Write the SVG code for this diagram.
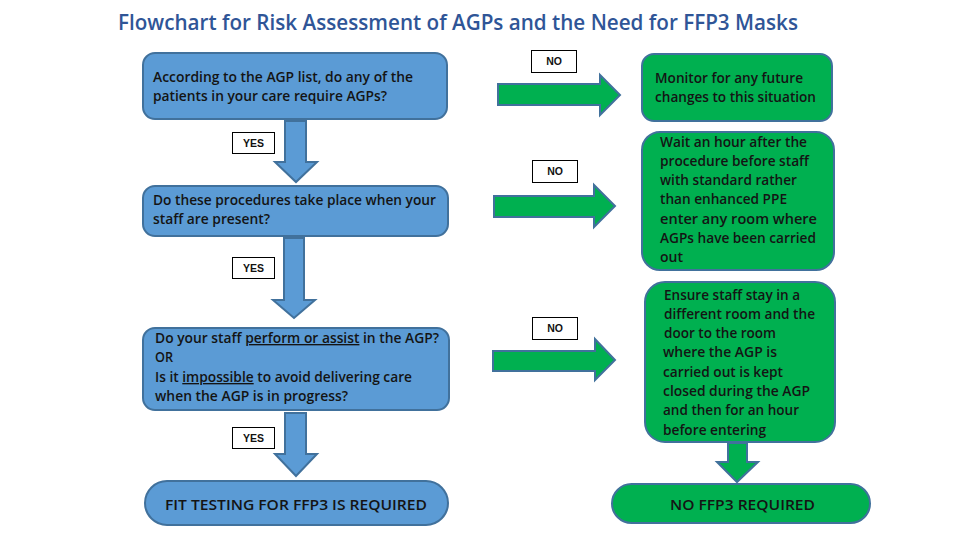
<svg xmlns="http://www.w3.org/2000/svg" width="960" height="540" viewBox="0 0 960 540">
<style>
.title{font-family:"Open Sans","Liberation Sans",sans-serif;font-weight:600;font-size:21px;fill:#2f5597}
.t{font-family:"Open Sans","Liberation Sans",sans-serif;font-weight:600;font-size:13.5px;fill:#141414}
.big{font-family:"Open Sans","Liberation Sans",sans-serif;font-weight:600;font-size:15px;fill:#141414}
.lbl{font-family:"Liberation Sans",Arial,sans-serif;font-weight:bold;font-size:10.5px;fill:#111;text-anchor:middle}
.blue{fill:#5b9bd5;stroke:#41719c;stroke-width:2}
.green{fill:#00b050;stroke:#41719c;stroke-width:2}
.lbox{fill:#fff;stroke:#000;stroke-width:1}
.u{text-decoration:underline}
</style>
<rect width="960" height="540" fill="#fff"/>
<text class="title" x="118" y="30" textLength="680" lengthAdjust="spacingAndGlyphs">Flowchart for Risk Assessment of AGPs and the Need for FFP3 Masks</text>

<g id="connectors">
  <polygon class="blue" points="285,121 306,121 306,162 317,162 296,182 275,162 285,162"/>
  <polygon class="blue" points="284,238 304,238 304,300 315,300 294,318 273,300 284,300"/>
  <polygon class="blue" points="285,413 306,413 306,454 317,454 296,476 275,454 285,454"/>
  <polygon class="green" points="498,84 600,84 600,75 620,95 600,115 600,105 498,105"/>
  <polygon class="green" points="494,196 594,196 594,185 615,206 594,227 594,217 494,217"/>
  <polygon class="green" points="493,351 595,351 595,339 615,360 595,380 595,371 493,371"/>
  <polygon class="green" points="728,443 747,443 747,462 758,462 737,482 717,462 728,462"/>
  <g id="yes1"><rect class="lbox" x="232.5" y="132.5" width="42" height="21"/><text class="lbl" x="253.5" y="146.5">YES</text></g>
  <g id="yes2"><rect class="lbox" x="232.5" y="257.5" width="42" height="21"/><text class="lbl" x="253.5" y="271.5">YES</text></g>
  <g id="yes3"><rect class="lbox" x="232.5" y="427.5" width="42" height="21"/><text class="lbl" x="253.5" y="441.5">YES</text></g>
  <g id="no1"><rect class="lbox" x="531.5" y="50.5" width="45" height="22"/><text class="lbl" x="554" y="65">NO</text></g>
  <g id="no2"><rect class="lbox" x="532.5" y="160.5" width="45" height="22"/><text class="lbl" x="555" y="175">NO</text></g>
  <g id="no3"><rect class="lbox" x="532.5" y="317.5" width="45" height="22"/><text class="lbl" x="555" y="332">NO</text></g>
</g>

<g id="q1">
  <rect class="blue" x="143" y="53" width="304" height="66" rx="12"/>
  <text class="t" x="153" y="82" textLength="260" lengthAdjust="spacingAndGlyphs">According to the AGP list, do any of the</text>
  <text class="t" x="153" y="101" textLength="234" lengthAdjust="spacingAndGlyphs">patients in your care require AGPs?</text>
</g>
<g id="q2">
  <rect class="blue" x="143" y="186" width="305" height="50" rx="12"/>
  <text class="t" x="153" y="205" textLength="283" lengthAdjust="spacingAndGlyphs">Do these procedures take place when your</text>
  <text class="t" x="153" y="224" textLength="117" lengthAdjust="spacingAndGlyphs">staff are present?</text>
</g>
<g id="q3">
  <rect class="blue" x="143" y="328" width="306" height="82" rx="12"/>
  <text class="t" x="155" y="343" textLength="284" lengthAdjust="spacingAndGlyphs">Do your staff <tspan class="u">perform or assist</tspan> in the AGP?</text>
  <text class="t" x="155" y="362" textLength="18" lengthAdjust="spacingAndGlyphs">OR</text>
  <text class="t" x="155" y="382" textLength="257" lengthAdjust="spacingAndGlyphs">Is it <tspan class="u">impossible</tspan> to avoid delivering care</text>
  <text class="t" x="155" y="401" textLength="193" lengthAdjust="spacingAndGlyphs">when the AGP is in progress?</text>
</g>
<g id="fit">
  <rect class="blue" x="145" y="481" width="303" height="44" rx="22"/>
  <text class="big" x="165" y="509.5" textLength="262" lengthAdjust="spacingAndGlyphs">FIT TESTING FOR FFP3 IS REQUIRED</text>
</g>

<g id="monitor">
  <rect class="green" x="642" y="54" width="190" height="67" rx="12"/>
  <text class="t" x="655" y="83" textLength="148" lengthAdjust="spacingAndGlyphs">Monitor for any future</text>
  <text class="t" x="655" y="102" textLength="161" lengthAdjust="spacingAndGlyphs">changes to this situation</text>
</g>
<g id="wait">
  <rect class="green" x="642" y="132" width="192" height="138" rx="18"/>
  <text class="t" x="660" y="147" textLength="147" lengthAdjust="spacingAndGlyphs">Wait an hour after the</text>
  <text class="t" x="660" y="166" textLength="149" lengthAdjust="spacingAndGlyphs">procedure before staff</text>
  <text class="t" x="660" y="185" textLength="137" lengthAdjust="spacingAndGlyphs">with standard rather</text>
  <text class="t" x="660" y="204" textLength="127" lengthAdjust="spacingAndGlyphs">than enhanced PPE</text>
  <text class="t" x="660" y="224" textLength="157" lengthAdjust="spacingAndGlyphs">enter any room where</text>
  <text class="t" x="660" y="243" textLength="156" lengthAdjust="spacingAndGlyphs">AGPs have been carried</text>
  <text class="t" x="660" y="262" textLength="23" lengthAdjust="spacingAndGlyphs">out</text>
</g>
<g id="ensure">
  <rect class="green" x="645" y="282" width="190" height="160" rx="20"/>
  <text class="t" x="664" y="300" textLength="136" lengthAdjust="spacingAndGlyphs">Ensure staff stay in a</text>
  <text class="t" x="664" y="319" textLength="151" lengthAdjust="spacingAndGlyphs">different room and the</text>
  <text class="t" x="664" y="338" textLength="112" lengthAdjust="spacingAndGlyphs">door to the room</text>
  <text class="t" x="663" y="357" textLength="114" lengthAdjust="spacingAndGlyphs">where the AGP is</text>
  <text class="t" x="663" y="377" textLength="120" lengthAdjust="spacingAndGlyphs">carried out is kept</text>
  <text class="t" x="663" y="396" textLength="147" lengthAdjust="spacingAndGlyphs">closed during the AGP</text>
  <text class="t" x="663" y="415" textLength="136" lengthAdjust="spacingAndGlyphs">and then for an hour</text>
  <text class="t" x="663" y="435" textLength="103" lengthAdjust="spacingAndGlyphs">before entering</text>
</g>
<g id="noffp3">
  <rect class="green" x="612" y="484" width="258" height="39" rx="19.5"/>
  <text class="big" x="670" y="509.5" textLength="145" lengthAdjust="spacingAndGlyphs">NO FFP3 REQUIRED</text>
</g>
</svg>
